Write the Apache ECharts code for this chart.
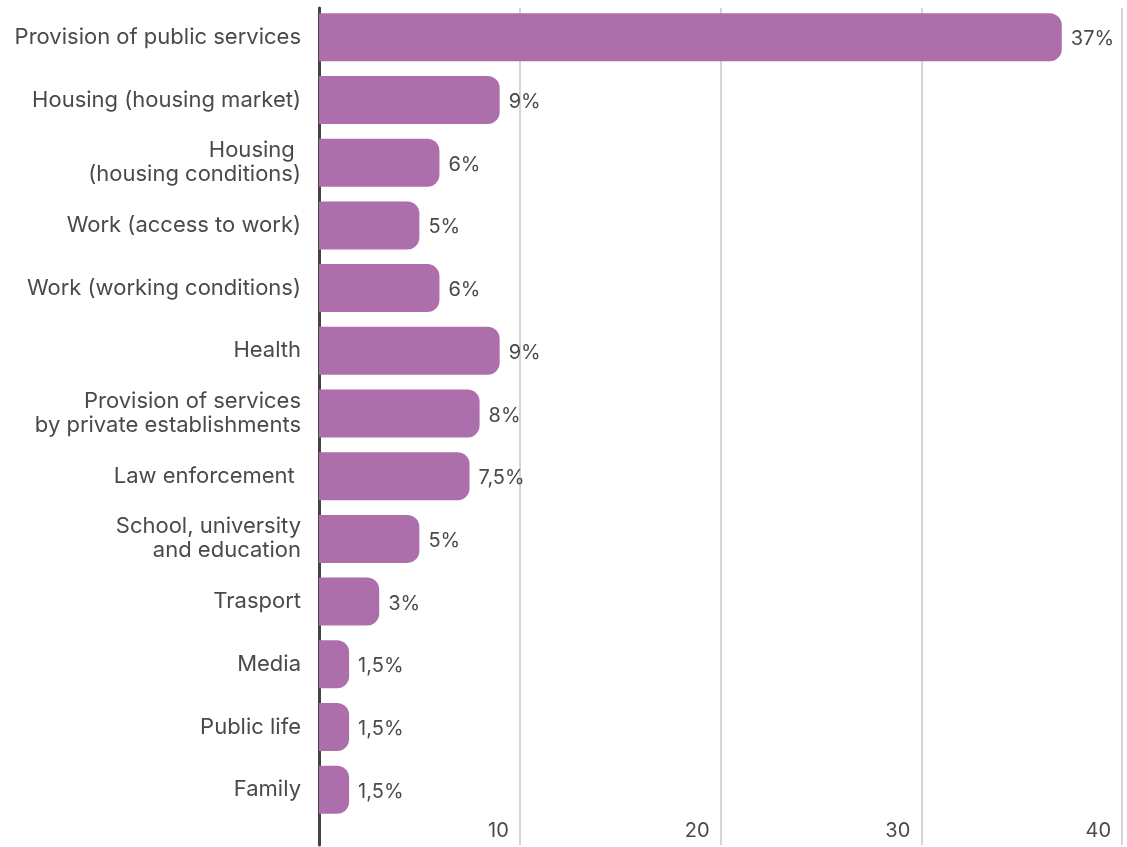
<!DOCTYPE html>
<html>
<head>
<meta charset="utf-8">
<script src="https://cdn.jsdelivr.net/npm/echarts@6/dist/echarts.min.js"></script>
<style>
  html, body { margin: 0; padding: 0; background: #ffffff; }
  #chart { width: 1127px; height: 847px; }
</style>
</head>
<body>
<div id="chart"></div>
<script>
// Share of reported discrimination cases by area (%)
const categories = [
  'Provision of public services',
  'Housing (housing market)',
  'Housing \n(housing conditions)',
  'Work (access to work)',
  'Work (working conditions)',
  'Health',
  'Provision of services\nby private establishments',
  'Law enforcement ',
  'School, university\nand education',
  'Trasport',
  'Media',
  'Public life',
  'Family'
];
const values = [37, 9, 6, 5, 6, 9, 8, 7.5, 5, 3, 1.5, 1.5, 1.5];
const axisTicks = [0, 10, 20, 30, 40];

const FONT = 'Inter, "Open Sans", sans-serif';
const TEXT = '#4a4a4a';
const BAR = '#ad6fac';

const chart = echarts.init(document.getElementById('chart'), null, { renderer: 'canvas' });

const option = {
  animation: false,
  backgroundColor: '#ffffff',
  textStyle: { fontFamily: FONT },
  grid: [
    // bars
    { left: 319, right: 5, top: 6, bottom: 26, containLabel: false },
    // gridlines, tick labels and the baseline (full height)
    { left: 319, right: 5, top: 8, bottom: 2, containLabel: false }
  ],
  xAxis: [
    {
      gridIndex: 0, type: 'value',
      min: axisTicks[0], max: axisTicks[axisTicks.length - 1], interval: 10,
      axisLine: { show: false }, axisTick: { show: false },
      axisLabel: { show: false }, splitLine: { show: false }
    },
    {
      gridIndex: 1, type: 'value', position: 'bottom',
      min: axisTicks[0], max: axisTicks[axisTicks.length - 1], interval: 10,
      axisLine: { show: false }, axisTick: { show: false },
      splitLine: { show: true, lineStyle: { color: '#d6d6d6', width: 2 } },
      axisLabel: {
        inside: true,
        margin: 4,
        align: 'right',
        padding: [0, 11, 0, 0],
        fontSize: 20,
        fontFamily: FONT,
        color: TEXT,
        formatter: v => (axisTicks.indexOf(v) > 0 ? String(v) : '')
      }
    }
  ],
  yAxis: [
    {
      gridIndex: 0, type: 'category', inverse: true, data: categories,
      axisLine: { show: false }, axisTick: { show: false },
      axisLabel: {
        margin: 18, align: 'right',
        fontSize: 22, lineHeight: 24,
        padding: [5, 0, 0, 0],
        fontFamily: FONT, color: TEXT
      }
    },
    {
      gridIndex: 1, type: 'value', min: 0, max: 1,
      axisLine: { show: true, onZero: false, lineStyle: { color: '#444444', width: 3 } },
      axisTick: { show: false }, axisLabel: { show: false }, splitLine: { show: false }
    }
  ],
  series: [
    {
      type: 'bar',
      xAxisIndex: 0, yAxisIndex: 0,
      data: values,
      barWidth: 48,
      itemStyle: { color: BAR, borderRadius: [0, 12, 12, 0] },
      label: {
        show: true, position: 'right', distance: 9, offset: [0, 2],
        fontSize: 20, fontFamily: FONT, color: TEXT,
        formatter: p => String(p.value).replace('.', ',') + '%'
      },
      z: 3
    }
  ]
};

chart.setOption(option);
</script>
</body>
</html>
